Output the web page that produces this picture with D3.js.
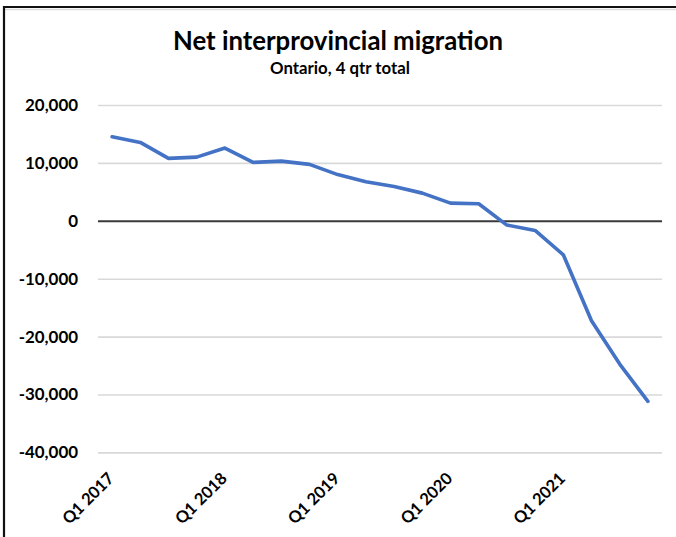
<!DOCTYPE html>
<html>
<head>
<meta charset="utf-8">
<script src="https://cdn.jsdelivr.net/npm/d3@7"></script>
<style>
  html, body { margin: 0; padding: 0; background: #fff; }
  svg { display: block; }
  text { font-family: Lato, "Open Sans", sans-serif; font-weight: 700; fill: #000; }
</style>
</head>
<body>
<svg id="chart" width="676" height="537"></svg>
<script>
const categories = [
  "Q1 2017","Q2 2017","Q3 2017","Q4 2017",
  "Q1 2018","Q2 2018","Q3 2018","Q4 2018",
  "Q1 2019","Q2 2019","Q3 2019","Q4 2019",
  "Q1 2020","Q2 2020","Q3 2020","Q4 2020",
  "Q1 2021","Q2 2021","Q3 2021","Q4 2021"
];
const netMigration = [
  14500, 13540, 10780, 11000,
  12560, 10090, 10300, 9740,
  7980, 6740, 5940, 4780,
  3060, 2940, -740, -1660,
  -5870, -17270, -24750, -31190
];
const yTicks = [20000, 10000, 0, -10000, -20000, -30000, -40000];
const xTickLabels = ["Q1 2017","Q1 2018","Q1 2019","Q1 2020","Q1 2021"];
const titleText = "Net interprovincial migration";
const subtitleText = "Ontario, 4 qtr total";

const svg = d3.select("#chart");
const W = 676, H = 537;
const plot = { left: 98, right: 662, top: 105, bottom: 452.4 };

// frame (cropped screenshot: top and left edges)
svg.append("line").attr("x1", 4).attr("x2", W).attr("y1", 9.5).attr("y2", 9.5)
  .attr("stroke", "#dcdcdc").attr("stroke-width", 1.5);
svg.append("line").attr("x1", 3).attr("x2", W).attr("y1", 7).attr("y2", 7)
  .attr("stroke", "#111").attr("stroke-width", 2.2);
svg.append("line").attr("x1", 4).attr("x2", 4).attr("y1", 6).attr("y2", H)
  .attr("stroke", "#111").attr("stroke-width", 2.2);

const x = d3.scaleBand().domain(categories).range([plot.left, plot.right]);
const y = d3.scaleLinear().domain([-40000, 20000]).range([plot.bottom, plot.top]);
const cx = c => x(c) + x.bandwidth() / 2;

// gridlines + y labels
const yAxis = d3.axisLeft(y).tickValues(yTicks)
  .tickSize(-(plot.right - plot.left)).tickPadding(20)
  .tickFormat(d => d3.format(",")(d).replace("−", "-"));
const gy = svg.append("g").attr("transform", `translate(${plot.left},0)`).call(yAxis);
gy.select(".domain").remove();
gy.selectAll(".tick line").attr("stroke", d => d === 0 ? "#3a3a3a" : "#d9d9d9")
  .attr("stroke-width", d => d === 0 ? 2 : 1.6);
const yLabels = gy.selectAll(".tick text").attr("font-size", 17).attr("font-weight", 700)
  .attr("fill", "#000").style("font-family", "Lato, sans-serif");
{
  const n = yLabels.filter(d => d === 20000).node();
  const w = n.getComputedTextLength();
  yLabels.attr("font-size", 17 * 53 / w);
}
gy.selectAll(".tick").filter(d => d === 0).raise();

// x axis labels
const xAxis = d3.axisBottom(x).tickValues(xTickLabels).tickSize(0).tickPadding(0);
const gx = svg.append("g").attr("transform", `translate(0,${plot.bottom})`).call(xAxis);
gx.select(".domain").remove();
const xLabels = gx.selectAll(".tick text")
  .attr("font-size", 17).attr("font-weight", 700).attr("fill", "#000")
  .style("font-family", "Lato, sans-serif")
  .attr("text-anchor", "end")
  .attr("dy", 0)
  .attr("transform", "translate(3,27) rotate(-45)");
{
  const w = xLabels.filter(d => d === "Q1 2019").node().getComputedTextLength();
  xLabels.attr("font-size", 17 * 65 / w);
}

// line
const line = d3.line().x((d, i) => cx(categories[i])).y(d => y(d));
svg.append("path").datum(netMigration)
  .attr("d", line).attr("fill", "none")
  .attr("stroke", "#4472C4").attr("stroke-width", 3.6)
  .attr("stroke-linejoin", "round").attr("stroke-linecap", "round");

// titles
const title = svg.append("text").attr("x", 338).attr("y", 50)
  .attr("text-anchor", "middle").attr("font-size", 24).text(titleText);
const tw = title.node().getComputedTextLength();
title.attr("font-size", 24 * 330 / tw);
const sub = svg.append("text").attr("x", 340).attr("y", 74)
  .attr("text-anchor", "middle").attr("font-size", 15).text(subtitleText);
const sw = sub.node().getComputedTextLength();
sub.attr("font-size", 15 * 140 / sw);
</script>
</body>
</html>
